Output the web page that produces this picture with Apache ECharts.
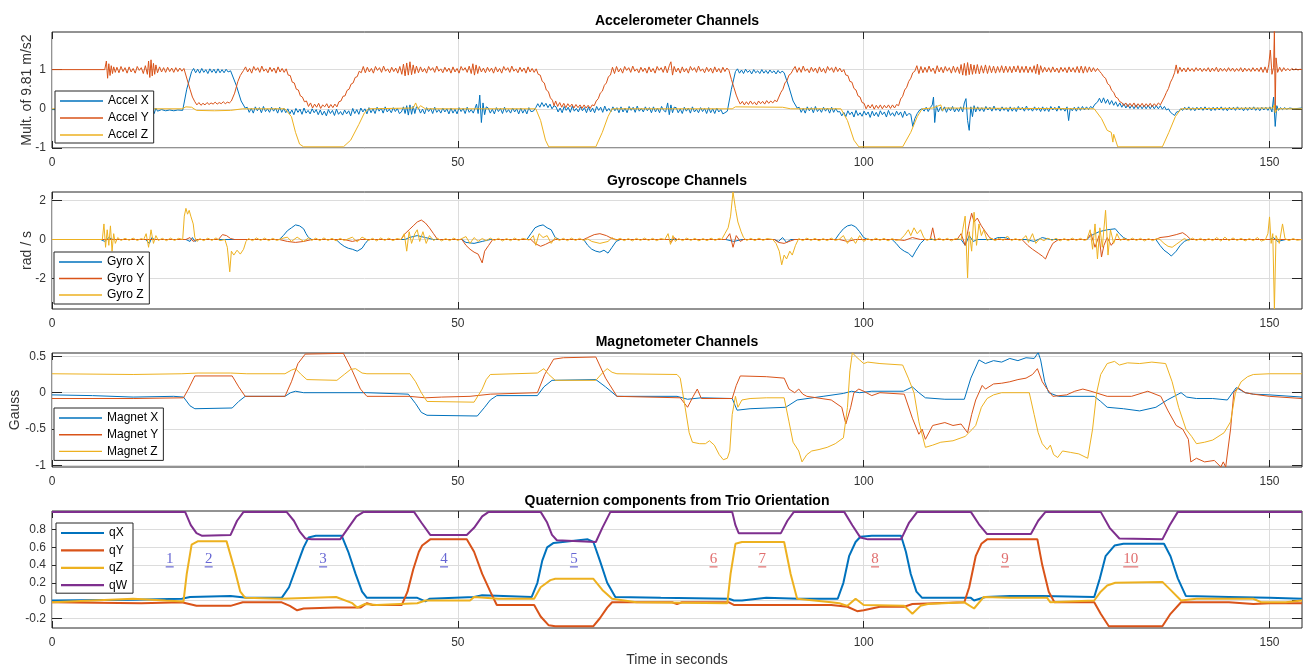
<!DOCTYPE html>
<html><head><meta charset="utf-8">
<script src="https://cdn.jsdelivr.net/npm/echarts@6/dist/echarts.min.js"></script>
<style>html,body{margin:0;padding:0;background:#fff}#c{width:1305px;height:665px}</style>
</head><body><div id="c"></div>
<script>
// ---------------- DATA (time in s, value) ----------------
const xTicks = [0, 50, 100, 150];
const accelTicks = [-1, 0, 1];
const gyroTicks = [-2, 0, 2];
const magTicks = [-1, -0.5, 0, 0.5];
const quatTicks = [-0.2, 0, 0.2, 0.4, 0.6, 0.8];

const titles = ['Accelerometer Channels', 'Gyroscope Channels', 'Magnetometer Channels', 'Quaternion components from Trio Orientation'];
const yNames = ['Mult. of 9.81 m/s2', 'rad / s', 'Gauss', ''];
const xName = 'Time in seconds';
const accelNames = ['Accel X', 'Accel Y', 'Accel Z'];
const gyroNames = ['Gyro X', 'Gyro Y', 'Gyro Z'];
const magNames = ['Magnet X', 'Magnet Y', 'Magnet Z'];
const quatNames = ['qX', 'qY', 'qZ', 'qW'];

const stepNames = ['1','2','3','4','5','6','7','8','9','10'];
const stepTimes = [14.5, 19.3, 33.4, 48.3, 64.3, 81.5, 87.5, 101.4, 117.4, 132.9];
const stepLevel = 0.47;

const accelX = [[0,-0.02],[6,-0.02],[6.5,-0.06],[6.75,0.03],[7.0,-0.07],[7.25,0.02],[7.5,-0.05],[7.75,0.0],[8,-0.04],[8.5,-0.02],[9,-0.05],[9.5,-0.02],[10,-0.04],[10.5,-0.02],[11,-0.05],[11.5,-0.03],[11.8,-0.06],[12.0,0.03],[12.2,-0.1],[12.4,0.04],[12.6,-0.12],[12.8,0.02],[13.0,-0.06],[13.5,-0.02],[14,-0.05],[14.5,-0.03],[15,-0.05],[15.5,-0.03],[16.1,-0.04],[16.6,0.5],[17.2,0.95],
[17.45,1.03],[17.7,0.92],[17.95,1.01],[18.2,0.91],[18.45,1.03],[18.7,0.93],[18.95,1.0],[19.2,0.9],[19.45,1.02],[19.7,0.93],[19.95,1.01],[20.2,0.91],[20.45,1.02],[20.7,0.92],[20.95,1.0],[21.2,0.92],[21.45,1.01],[21.7,0.94],[22,0.97],[22.7,0.6],[23.3,0.2],[23.8,0.02],
[24.05,0.04],[24.3,-0.09],[24.55,0.01],[24.8,-0.11],[25.05,0.05],[25.3,-0.05],[25.55,0.03],[25.8,-0.1],[26.05,0.06],[26.3,-0.07],[26.55,0.0],[26.8,-0.09],[27.05,0.04],[27.3,-0.06],[27.55,0.02],[27.8,-0.11],[28.05,0.04],[28.3,-0.09],[28.55,0.01],[28.8,-0.1],
[29.05,0.0],[29.3,-0.13],[29.55,-0.03],[29.8,-0.15],[30.05,0.01],[30.3,-0.09],[30.55,-0.01],[30.8,-0.14],[31.05,0.02],[31.3,-0.11],[31.55,-0.04],[31.8,-0.13],[32.05,0.0],[32.3,-0.1],[32.55,-0.02],[32.8,-0.15],[33.05,-0.03],[33.3,-0.16],[33.55,-0.06],[33.8,-0.18],[34.05,-0.02],[34.3,-0.12],[34.55,-0.04],[34.8,-0.17],[35.05,-0.01],[35.3,-0.14],[35.55,-0.07],[35.8,-0.16],[36.05,-0.03],[36.3,-0.13],[36.55,-0.05],[36.8,-0.18],[37.05,0.01],[37.3,-0.12],[37.55,-0.02],[37.8,-0.14],[38.05,0.02],[38.3,-0.08],[38.55,0.0],[38.8,-0.13],
[39.05,0.03],[39.3,-0.1],[39.55,0.0],[39.8,-0.12],[40.05,0.04],[40.3,-0.06],[40.55,0.02],[40.8,-0.11],[41.05,0.05],[41.3,-0.08],[41.55,-0.01],[41.8,-0.1],[42.05,0.03],[42.3,-0.07],[42.55,0.01],[42.8,-0.12],
[43.05,-0.08],[43.3,0.05],[43.5,-0.12],[43.7,0.08],[43.9,-0.16],[44.1,0.1],[44.3,-0.14],[44.5,0.07],[44.7,-0.12],[44.9,0.05],
[45.15,0.02],[45.4,-0.11],[45.65,-0.01],[45.9,-0.13],[46.15,0.03],[46.4,-0.07],[46.65,0.01],[46.9,-0.12],[47.15,0.04],[47.4,-0.09],[47.65,-0.02],[47.9,-0.11],[48.15,0.02],[48.4,-0.08],[48.65,0.0],[48.9,-0.13],[49.15,0.02],[49.4,-0.11],[49.65,-0.01],[49.9,-0.13],[50.15,0.03],[50.4,-0.07],[50.65,0.01],[50.9,-0.12],[51.15,0.04],[51.4,-0.09],[51.65,-0.02],[51.9,-0.11],
[52.1,-0.15],[52.3,0.12],[52.5,-0.12],[52.7,0.35],[52.9,-0.35],[53.1,0.15],[53.3,-0.15],[53.5,0.05],
[53.75,0.02],[54.0,-0.11],[54.25,-0.01],[54.5,-0.13],[54.75,0.03],[55.0,-0.07],[55.25,0.01],[55.5,-0.12],[55.75,0.04],[56.0,-0.09],[56.25,-0.02],[56.5,-0.11],[56.75,0.02],[57.0,-0.08],[57.25,0.0],[57.5,-0.13],[57.75,0.02],[58.0,-0.11],[58.25,-0.01],[58.5,-0.13],[58.75,0.03],[59.0,-0.07],[59.3,-0.06],
[59.6,0.03],[59.85,0.13],[60.1,0.04],[60.35,0.16],[60.6,0.06],[60.85,0.14],[61.1,0.03],[61.35,0.12],[61.6,0.0],[61.85,0.08],
[62.1,0.05],[62.35,-0.08],[62.6,0.02],[62.85,-0.1],[63.1,0.06],[63.35,-0.04],[63.6,0.04],[63.85,-0.09],[64.1,0.07],[64.35,-0.06],[64.6,0.01],[64.85,-0.08],[65.1,0.05],[65.35,-0.05],[65.6,0.03],[65.85,-0.1],
[66.1,0.05],[66.35,-0.08],[66.6,0.02],[66.85,-0.1],[67.1,0.06],[67.35,-0.04],[67.6,0.04],[67.85,-0.09],[68.1,0.07],[68.35,-0.06],[68.6,0.01],[68.85,-0.08],[69.1,0.05],[69.35,-0.05],[69.6,0.03],[69.85,-0.1],
[70.1,0.05],[70.35,-0.08],[70.6,0.02],[70.85,-0.1],[71.1,0.06],[71.35,-0.04],[71.6,0.04],[71.85,-0.09],[72.1,0.07],[72.35,-0.06],[72.6,0.01],[72.85,-0.08],[73.1,0.05],[73.35,-0.05],[73.6,0.03],[73.85,-0.1],
[74.1,0.05],[74.35,-0.08],[74.6,0.02],[74.85,-0.1],[75.1,0.06],[75.35,-0.04],
[75.6,-0.08],[75.85,0.15],[76.05,-0.15],[76.25,0.1],[76.45,-0.1],[76.65,0.04],
[76.9,0.03],[77.15,-0.1],[77.4,0.0],[77.65,-0.12],[77.9,0.04],[78.15,-0.06],[78.4,0.02],[78.65,-0.11],[78.9,0.05],[79.15,-0.08],[79.4,-0.01],[79.65,-0.1],[79.9,0.03],[80.15,-0.07],[80.4,0.01],[80.65,-0.12],[80.9,0.03],[81.15,-0.1],[81.4,0.0],[81.65,-0.12],[81.9,0.02],[82.15,-0.08],[82.4,-0.02],[82.65,-0.13],[82.9,-0.1],[83.2,-0.06],[83.7,0.5],[84.2,0.95],
[84.45,1.02],[84.7,0.91],[84.95,0.99],[85.2,0.9],[85.45,1.01],[85.7,0.93],[85.95,0.98],[86.2,0.89],[86.45,1.0],[86.7,0.92],[86.95,0.97],[87.2,0.9],[87.45,1.0],[87.7,0.91],[87.95,0.98],[88.2,0.9],[88.45,0.99],[88.7,0.92],[88.95,0.97],[89.2,0.89],[89.45,0.98],[89.7,0.91],[89.95,0.96],[90.2,0.92],[90.8,0.55],[91.3,0.2],[91.8,0.02],
[92.05,0.04],[92.3,-0.09],[92.55,0.01],[92.8,-0.11],[93.05,0.05],[93.3,-0.05],[93.55,0.03],[93.8,-0.1],[94.05,0.06],[94.3,-0.07],[94.55,0.0],[94.8,-0.09],[95.05,0.04],[95.3,-0.06],[95.55,0.02],[95.8,-0.11],[96.05,0.04],[96.3,-0.09],[96.55,0.01],[96.8,-0.08],
[97.05,-0.07],[97.3,-0.18],[97.55,-0.09],[97.8,-0.2],[98.05,-0.05],[98.3,-0.15],[98.55,-0.08],[98.8,-0.21],[99.05,-0.04],[99.3,-0.17],[99.55,-0.1],[99.8,-0.19],[100.05,-0.06],[100.3,-0.16],[100.55,-0.08],[100.8,-0.22],[101.05,-0.06],[101.3,-0.18],[101.55,-0.09],[101.8,-0.2],[102.05,-0.05],[102.3,-0.15],[102.55,-0.08],[102.8,-0.21],[103.05,-0.04],[103.3,-0.17],[103.55,-0.1],[103.8,-0.19],[104.05,-0.06],[104.3,-0.16],[104.55,-0.08],[104.8,-0.22],[105.05,-0.06],[105.3,-0.18],[105.55,-0.12],
[105.8,-0.14],[106.05,-0.45],[106.3,-0.25],[106.6,-0.12],[106.9,-0.03],[107.2,0.0],[107.45,-0.06],[107.7,0.04],[107.95,-0.07],[108.2,0.03],[108.45,0.1],[108.6,0.3],[108.75,-0.35],[108.95,0.08],
[109.2,-0.08],[109.45,0.04],[109.7,-0.06],[109.95,0.05],[110.2,-0.09],[110.45,0.03],[110.7,-0.05],[110.95,0.06],[111.2,-0.08],[111.45,0.02],[111.7,-0.07],[111.95,0.05],
[112.2,-0.08],[112.4,0.15],[112.6,0.26],[112.8,-0.3],[113.0,-0.55],[113.2,0.05],[113.4,-0.2],[113.6,0.08],[113.8,-0.08],
[114.05,0.05],[114.3,-0.06],[114.55,0.03],[114.8,-0.07],[115.05,0.06],[115.3,-0.03],[115.55,0.04],[115.8,-0.06],[116.05,0.07],[116.3,-0.04],[116.55,0.02],[116.8,-0.06],[117.05,0.05],[117.3,-0.04],[117.55,0.03],[117.8,-0.07],
[118.05,0.05],[118.3,-0.06],[118.55,0.03],[118.8,-0.07],[119.05,0.06],[119.3,-0.03],[119.55,0.04],[119.8,-0.06],[120.05,0.07],[120.3,-0.04],[120.55,0.02],[120.8,-0.06],[121.05,0.05],[121.3,-0.04],[121.55,0.03],[121.8,-0.07],
[122.05,0.05],[122.3,-0.06],[122.55,0.03],[122.8,-0.07],[123.05,0.06],[123.3,-0.03],[123.55,0.04],[123.8,-0.06],[124.05,0.07],[124.3,-0.04],[124.55,0.02],[124.8,-0.06],[125.05,0.05],
[125.25,-0.3],[125.45,0.02],
[125.7,-0.05],[125.95,0.04],[126.2,-0.06],[126.45,0.05],[126.7,-0.04],[126.95,0.06],[127.2,-0.03],[127.45,0.05],[127.7,-0.02],[127.95,0.06],
[128.2,0.02],[128.5,0.12],[128.8,0.17],[129.05,0.27],[129.3,0.15],[129.55,0.28],[129.8,0.14],[130.05,0.24],[130.3,0.11],[130.55,0.21],[130.8,0.09],[131.05,0.18],[131.3,0.06],[131.55,0.15],[131.8,0.04],[132.05,0.13],[132.3,0.02],[132.55,0.11],[132.8,0.01],[133.05,0.1],[133.3,0.0],[133.55,0.1],[133.8,0.0],[134.05,0.09],[134.3,0.0],[134.55,0.09],[134.8,0.0],[135.05,0.09],[135.3,0.0],[135.55,0.09],[135.8,0.0],[136.05,0.08],[136.3,0.0],[136.55,0.08],[136.8,-0.01],[137.05,0.06],[137.3,-0.03],[137.55,0.0],[137.8,-0.09],[138.05,-0.13],[138.3,-0.17],[138.55,-0.08],[138.8,-0.07],[139.05,0.0],
[139.3,-0.04],[139.55,0.04],[139.8,-0.03],[140.05,0.05],[140.3,-0.04],[140.55,0.03],[140.8,-0.05],[141.05,0.04],[141.3,-0.03],[141.55,0.04],[141.8,-0.04],[142.05,0.05],[142.3,-0.03],[142.55,0.03],[142.8,-0.05],[143.05,0.04],
[143.3,-0.04],[143.55,0.04],[143.8,-0.03],[144.05,0.05],[144.3,-0.04],[144.55,0.03],[144.8,-0.05],[145.05,0.04],[145.3,-0.03],[145.55,0.04],[145.8,-0.04],[146.05,0.05],[146.3,-0.03],[146.55,0.03],[146.8,-0.05],[147.05,0.04],
[147.3,-0.04],[147.55,0.04],[147.8,-0.03],[148.05,0.05],[148.3,-0.04],[148.55,0.03],[148.8,-0.05],[149.05,0.04],[149.3,-0.03],[149.55,0.04],[149.8,-0.04],
[150.05,0.05],[150.3,-0.08],[150.5,0.3],[150.7,-0.45],[150.9,0.08],[151.1,-0.04],[151.35,0.03],[151.6,-0.02],[151.85,0.03],[152.1,-0.01],[152.5,0.02],[153,0.0],[154,0.02]];

const accelY = [[0,1],[6.5,1.0],[6.7,1.22],[6.85,0.78],[7.0,1.15],[7.15,0.85],[7.3,1.1],[7.45,0.9],[7.6,1.07],[7.8,0.93],[8.0,1.06],[8.25,0.92],[8.5,1.08],[8.75,0.95],[9.0,1.05],[9.25,0.91],[9.5,1.07],[9.75,0.94],[10.0,1.03],[10.25,0.91],[10.5,1.08],[10.75,0.98],[11.0,1.05],[11.25,0.9],[11.5,1.1],[11.75,0.88],[11.9,1.22],[12.05,0.8],[12.2,1.25],[12.35,0.84],[12.5,1.16],[12.65,0.88],[12.8,1.12],[13.0,0.92],[13.25,1.07],[13.5,0.94],[13.75,1.05],[14.0,0.93],[14.25,1.06],[14.5,0.95],[14.75,1.04],[15.0,0.93],[15.25,1.05],[15.5,0.95],[15.75,1.04],[16.0,0.96],[16.25,1.03],[16.4,1.0],
[17,0.5],[17.3,0.3],[17.6,0.18],[17.85,0.1],[18.1,0.16],[18.35,0.09],[18.6,0.14],[18.85,0.1],[19.1,0.16],[19.35,0.11],[19.6,0.15],[19.85,0.12],[20.1,0.17],[20.35,0.12],[20.6,0.16],[20.85,0.13],[21.1,0.18],[21.35,0.13],[21.6,0.17],[21.85,0.15],[22.1,0.2],[22.5,0.4],[22.9,0.7],[23.2,0.85],[23.6,0.98],
[23.85,1.07],[24.1,0.94],[24.35,1.03],[24.6,0.91],[24.85,1.08],[25.1,0.98],[25.35,1.05],[25.6,0.93],[25.85,1.09],[26.1,0.96],[26.35,1.02],[26.6,0.92],[26.85,1.06],[27.1,0.95],[27.35,1.04],[27.6,0.91],[27.85,1.07],[28.1,0.94],[28.35,1.03],[28.6,0.93],
[28.85,1.02],[29.1,0.86],[29.35,0.85],[29.6,0.68],[29.85,0.66],[30.1,0.5],[30.35,0.48],[30.6,0.33],[30.85,0.3],[31.1,0.18],[31.35,0.2],[31.6,0.06],
[31.85,0.15],[32.1,0.02],[32.35,0.12],[32.6,0.04],[32.85,0.14],[33.1,0.01],[33.35,0.1],[33.6,0.05],[33.85,0.13],[34.1,0.02],[34.35,0.11],[34.6,0.03],[34.85,0.12],[35.1,0.05],
[35.35,0.18],[35.6,0.2],[35.85,0.32],[36.1,0.33],[36.35,0.47],[36.6,0.5],[36.85,0.63],[37.1,0.66],[37.35,0.8],[37.6,0.82],[37.85,0.96],[38.1,0.92],
[38.35,1.08],[38.6,0.92],[38.85,1.06],[39.1,0.94],[39.35,1.03],[39.6,0.91],[39.85,1.08],[40.1,0.98],[40.35,1.05],[40.6,0.93],[40.85,1.09],[41.1,0.96],[41.35,1.02],[41.6,0.92],[41.85,1.06],[42.1,0.95],[42.35,1.04],[42.6,0.91],[42.85,1.08],[43.1,0.88],[43.3,1.14],[43.5,0.84],[43.7,1.17],[43.9,0.86],[44.1,1.2],[44.3,0.87],[44.5,1.12],[44.7,0.9],[44.9,1.09],[45.15,0.92],[45.4,1.07],[45.65,0.94],[45.9,1.03],[46.15,0.91],[46.4,1.08],[46.65,0.98],[46.9,1.05],[47.15,0.93],[47.4,1.09],[47.65,0.96],[47.9,1.02],[48.15,0.92],[48.4,1.06],[48.65,0.95],[48.9,1.04],[49.15,0.91],[49.4,1.07],[49.65,0.94],[49.9,1.03],[50.15,0.91],[50.4,1.08],[50.65,0.98],[50.9,1.05],[51.15,0.93],[51.4,1.09],[51.65,0.9],[51.85,1.15],[52.05,0.86],[52.25,1.12],[52.45,0.9],[52.65,1.08],[52.9,0.94],[53.15,1.04],[53.4,0.92],[53.65,1.06],[53.9,0.95],[54.15,1.04],[54.4,0.91],[54.65,1.07],[54.9,0.94],[55.15,1.03],[55.4,0.91],[55.65,1.08],[55.9,0.98],[56.15,1.05],[56.4,0.93],[56.65,1.09],[56.9,0.96],[57.15,1.02],[57.4,0.92],[57.65,1.06],[57.9,0.95],[58.15,1.04],[58.4,0.91],[58.65,1.07],[58.9,0.94],[59.15,1.03],[59.4,0.93],[59.65,1.02],
[59.9,0.88],[60.15,0.86],[60.4,0.7],[60.65,0.66],[60.9,0.48],[61.15,0.44],[61.4,0.28],[61.65,0.22],[61.85,0.08],
[62.05,0.2],[62.3,0.06],[62.55,0.16],[62.8,0.04],[63.05,0.14],[63.3,0.03],[63.55,0.13],[63.8,0.05],[64.05,0.12],[64.3,0.02],[64.55,0.11],[64.8,0.03],[65.05,0.1],[65.3,0.01],[65.55,0.1],[65.8,0.02],[66.05,0.09],[66.3,0.01],[66.55,0.1],[66.8,0.08],
[67.05,0.2],[67.3,0.26],[67.55,0.4],[67.8,0.45],[68.05,0.6],[68.3,0.66],[68.55,0.82],[68.8,0.86],[69.05,1.06],[69.3,0.9],
[69.55,1.08],[69.8,0.94],[70.05,1.03],[70.3,0.91],[70.55,1.08],[70.8,0.98],[71.05,1.05],[71.3,0.93],[71.55,1.09],[71.8,0.96],[72.05,1.02],[72.3,0.92],[72.55,1.06],[72.8,0.95],[73.05,1.04],[73.3,0.91],[73.55,1.07],[73.8,0.94],[74.05,1.03],[74.3,0.91],[74.55,1.08],[74.8,0.98],[75.05,1.05],[75.3,0.93],[75.55,1.09],[75.8,0.92],[76.05,1.1],[76.25,1.2],[76.45,0.86],[76.65,1.08],[76.9,0.94],[77.15,1.04],[77.4,0.91],[77.65,1.07],[77.9,0.94],[78.15,1.03],[78.4,0.91],[78.65,1.08],[78.9,0.98],[79.15,1.05],[79.4,0.93],[79.65,1.09],[79.9,0.96],[80.15,1.02],[80.4,0.92],[80.65,1.06],[80.9,0.95],[81.15,1.04],[81.4,0.91],[81.65,1.07],[81.9,0.94],[82.15,1.03],[82.4,0.92],[82.65,1.06],[82.9,0.95],[83.15,1.04],[83.4,0.98],
[83.7,0.75],[84.0,0.55],[84.3,0.35],[84.55,0.22],[84.8,0.12],
[85.05,0.19],[85.3,0.1],[85.55,0.18],[85.8,0.11],[86.05,0.2],[86.3,0.12],[86.55,0.17],[86.8,0.1],[87.05,0.2],[87.3,0.13],[87.55,0.19],[87.8,0.12],[88.05,0.21],[88.3,0.14],[88.55,0.2],[88.8,0.15],[89.05,0.22],[89.3,0.18],
[89.55,0.3],[89.8,0.42],[90.05,0.5],[90.3,0.66],[90.55,0.72],[90.8,0.86],[91.05,0.9],[91.3,1.0],[91.55,1.08],
[91.8,0.93],[92.05,1.05],[92.3,0.93],[92.55,1.09],[92.8,0.96],[93.05,1.02],[93.3,0.92],[93.55,1.06],[93.8,0.95],[94.05,1.04],[94.3,0.91],[94.55,1.07],[94.8,0.94],[95.05,1.03],[95.3,0.91],[95.55,1.08],[95.8,0.98],[96.05,1.05],[96.3,0.93],[96.55,1.07],[96.8,0.95],[97.05,1.04],[97.3,0.94],[97.55,1.0],
[97.8,0.86],[98.05,0.85],[98.3,0.7],[98.55,0.68],[98.8,0.52],[99.05,0.48],[99.3,0.33],[99.55,0.3],[99.8,0.16],[100.05,0.14],
[100.3,0.0],[100.55,0.1],[100.8,0.02],[101.05,0.11],[101.3,-0.01],[101.55,0.09],[101.8,0.01],[102.05,0.1],[102.3,0.0],[102.55,0.09],[102.8,0.02],[103.05,0.1],[103.3,0.01],[103.55,0.1],[103.8,0.02],[104.05,0.11],[104.3,0.08],
[104.55,0.25],[104.8,0.32],[105.05,0.48],[105.3,0.55],[105.55,0.7],[105.8,0.78],[106.05,0.92],[106.3,0.96],[106.55,1.1],[106.8,0.9],
[107.05,1.08],[107.3,0.92],[107.55,1.06],[107.8,0.93],[108.05,1.09],[108.3,0.95],[108.55,1.04],[108.8,0.9],[109.05,1.1],[109.3,0.94],[109.55,1.06],[109.8,0.92],[110.05,1.08],[110.3,0.96],[110.55,1.05],[110.8,0.91],[111.05,1.09],[111.3,0.93],[111.55,1.07],[111.8,0.9],[112.0,1.13],[112.2,0.86],[112.4,1.16],[112.6,0.85],[112.8,1.18],[113.0,0.87],[113.2,1.14],[113.4,0.88],[113.6,1.12],[113.8,0.9],[114.0,1.13],[114.25,0.89],[114.5,1.1],[114.75,0.91],[115.0,1.12],[115.25,0.9],[115.5,1.1],[115.75,0.92],[116.0,1.09],[116.25,0.91],[116.5,1.08],[116.75,0.93],[117.0,1.1],[117.25,0.92],[117.5,1.09],[117.75,0.93],[118.0,1.08],[118.25,0.92],[118.5,1.09],[118.75,0.94],[119.0,1.1],[119.25,0.92],[119.5,1.08],[119.75,0.93],[120.0,1.09],[120.25,0.92],[120.5,1.07],[120.75,0.93],[121.0,1.1],[121.2,0.9],[121.4,1.14],[121.6,0.87],[121.8,1.1],[122.05,0.93],[122.3,1.06],[122.55,0.94],[122.8,1.05],[123.05,0.93],[123.3,1.07],[123.55,0.94],[123.8,1.04],[124.05,0.92],[124.3,1.06],[124.55,0.95],[124.8,1.05],[125.05,0.92],[125.3,1.07],[125.55,0.94],[125.8,1.05],[126.05,0.93],[126.3,1.08],[126.55,0.92],[126.8,1.09],[127.05,0.91],[127.3,1.08],[127.55,0.93],[127.8,1.07],[128.05,0.94],[128.3,1.05],[128.55,0.95],[128.8,1.03],[129.05,0.96],
[129.3,0.9],[129.55,0.82],[129.8,0.78],[130.05,0.64],[130.3,0.6],[130.55,0.47],[130.8,0.42],[131.05,0.3],[131.3,0.27],[131.55,0.18],[131.8,0.16],[132.05,0.08],
[132.3,0.15],[132.55,0.05],[132.8,0.14],[133.05,0.06],[133.3,0.15],[133.55,0.04],[133.8,0.13],[134.05,0.06],[134.3,0.14],[134.55,0.05],[134.8,0.13],[135.05,0.06],[135.3,0.14],[135.55,0.05],[135.8,0.13],[136.05,0.07],[136.3,0.15],[136.55,0.1],
[136.8,0.2],[137.05,0.3],[137.3,0.42],[137.55,0.52],[137.8,0.68],[138.05,0.78],[138.3,0.92],[138.5,1.12],[138.7,0.9],
[138.95,1.06],[139.2,0.95],[139.45,1.04],[139.7,0.94],[139.95,1.05],[140.2,0.96],[140.45,1.03],[140.7,0.95],[140.95,1.05],[141.2,0.97],[141.45,1.04],[141.7,0.95],[141.95,1.03],[142.2,0.96],[142.45,1.05],[142.7,0.94],[142.95,1.04],[143.2,0.96],[143.45,1.06],[143.7,0.94],[143.95,1.04],[144.2,0.96],[144.45,1.03],[144.7,0.95],[144.95,1.05],[145.2,0.96],[145.45,1.04],[145.7,0.95],[145.95,1.03],[146.2,0.96],[146.45,1.05],[146.7,0.94],[146.95,1.04],[147.2,0.96],[147.45,1.03],[147.7,0.95],[147.95,1.05],[148.2,0.96],[148.45,1.04],[148.7,0.95],[148.95,1.06],[149.2,0.93],[149.45,1.07],[149.7,0.92],[149.9,1.12],[150.1,1.5],[150.3,0.88],[150.5,1.06],[150.6,2.0],[150.7,-0.04],[150.8,1.3],[151.0,0.93],[151.25,1.06],[151.5,0.95],[151.75,1.05],[152.0,0.97],[152.25,1.03],[152.5,0.97],[152.75,1.03],[153.0,0.99],[153.25,1.02],[153.5,0.99],[153.75,1.01],[154,1.0]];

const accelZ = [[0,0],[16,0],[16.5,0.05],[17.2,0.04],[17.8,-0.04],[20,-0.05],[22,-0.04],[23.5,0],[28.7,0],[29.5,-0.2],[30,-0.6],[30.5,-0.9],[31,-0.97],[35.9,-0.97],[36.8,-0.8],[37.8,-0.4],[38.5,-0.1],[39,0],[44.5,0.02],[44.8,0.15],[45.1,0.0],[45.4,0.08],[46,0],[59.6,0],[60.2,-0.3],[60.8,-0.8],[61.2,-0.97],[67,-0.97],[67.8,-0.6],[68.5,-0.2],[69,0],[83.8,0],[84.2,0.05],[90,0.04],[91,0],[97.2,0],[98,-0.3],[98.8,-0.8],[99.4,-0.97],[104.8,-0.97],[105.8,-0.6],[106.6,-0.2],[107.2,0],[108.5,0.02],[109.5,0.1],[109.7,-0.05],[110,0.02],[128.4,0],[129.3,-0.25],[130,-0.55],[130.5,-0.6],[130.7,-0.85],[130.8,-0.65],[131.3,-0.97],[136.8,-0.97],[137.6,-0.6],[138.4,-0.2],[139.1,0],[150.4,0.02],[150.6,0.1],[150.7,-0.1],[151,0],[154,0]];

const gyroX = [[0,0],[6,0],[6.5,-0.1],[7,0.1],[7.5,0],[11.5,0],[12,-0.2],[12.3,0.1],[12.6,0],[16.5,0],[17,-0.1],[17.3,0.1],[17.6,-0.1],[18,0],[28,0],[28.5,0.2],[29,0.45],[29.5,0.6],[30,0.75],[30.5,0.7],[31,0.55],[31.3,0.3],[31.6,0.1],[32,0],[35,0],[35.5,-0.2],[36,-0.35],[36.5,-0.45],[37,-0.5],[37.6,-0.6],[38.2,-0.45],[38.6,-0.2],[39,0],[43.5,0],[44,0.1],[45,0.2],[46,0.1],[47,0],[50.5,0],[51,-0.15],[52,-0.2],[53,-0.1],[54,0],[58.5,0],[59,0.3],[59.5,0.6],[60,0.7],[60.5,0.75],[61,0.6],[61.5,0.5],[62,0.1],[62.5,0],[65.5,0],[66,-0.3],[66.5,-0.5],[67,-0.6],[67.5,-0.65],[68,-0.55],[68.5,-0.7],[69,-0.4],[69.5,-0.1],[70,0],[83,0],[84,-0.1],[85,0],[89,0],[89.5,-0.1],[90,0.1],[90.5,-0.15],[91,0],[96.5,0],[97,0.3],[97.5,0.55],[98,0.7],[98.5,0.75],[99,0.65],[99.5,0.4],[100,0.1],[100.5,0],[103.5,0],[104,-0.2],[104.5,-0.45],[105,-0.6],[105.5,-0.7],[106,-0.9],[106.4,-0.6],[107,-0.2],[107.5,0],[112,0],[112.5,-0.3],[113,0.2],[113.5,-0.1],[114,0],[116,0],[116.5,0.1],[117.5,0.1],[118,0],[120,0],[121,-0.1],[122,0.1],[123,0],[127.5,0],[128,0.2],[129,0.4],[130,0.5],[131,0.55],[131.5,0.3],[132,0.1],[132.5,0],[136,0],[136.5,-0.3],[137,-0.55],[137.5,-0.7],[137.9,-0.85],[138.5,-0.6],[139,-0.3],[139.5,-0.1],[140,0],[150,0],[150.5,0.1],[151,-0.1],[152,0],[154,0]];

const gyroY = [[0,0],[16.5,0],[17,0.1],[17.4,-0.1],[17.8,0],[20.5,0],[21,0.25],[21.5,0.2],[22,0.05],[22.5,0],[28,0],[29,-0.1],[30,-0.15],[31,-0.1],[32,0],[36,0],[37,-0.1],[38,0],[43,0],[43.5,0.3],[44,0.5],[44.5,0.7],[45,0.9],[45.5,1.0],[46,0.85],[46.5,0.6],[47,0.3],[47.5,0],[50.5,0],[51,-0.3],[51.5,-0.5],[52,-0.65],[52.5,-0.75],[53,-1.2],[53.3,-0.6],[53.8,-0.3],[54.3,0],[59,0],[59.5,-0.2],[60.2,-0.35],[60.8,-0.25],[61.5,-0.1],[62,0],[65.5,0],[66,0.1],[66.8,0.25],[67.5,0.3],[68.3,0.2],[69,0.05],[69.5,0],[76,0],[76.3,-0.15],[76.6,0.1],[77,0],[83,0],[83.5,0.3],[83.9,-0.4],[84.3,0.2],[84.8,-0.1],[85.2,0],[89,0],[89.5,-0.15],[90.2,-0.2],[90.8,-0.1],[91.5,0],[97,0],[98,-0.1],[99,0],[104,0],[105,-0.05],[106,0.1],[107,0],[108.2,0],[108.5,0.6],[108.8,0],[111.5,0],[112,0.3],[112.5,-0.3],[113,0.8],[113.3,1.35],[113.6,0.9],[114,1.1],[114.5,0.7],[115,0.4],[115.5,0.1],[116,0],[119.5,0],[120.2,-0.3],[120.8,-0.5],[121.5,-0.7],[122,-0.85],[122.4,-1.0],[122.8,-0.6],[123.3,-0.2],[124,0],[127.5,0],[128,0.3],[128.5,-0.4],[129,0.2],[129.3,-0.9],[129.6,-0.3],[130,0.1],[130.5,-0.3],[131,0],[136,0],[136.5,0.1],[137.5,0.15],[138.5,0.25],[139.3,0.35],[139.8,0.2],[140.3,0],[154,0]];

const gyroZ = [[0,0],[6.2,0],[6.4,0.8],[6.6,-0.4],[6.8,0.5],[7,-0.3],[7.2,0.7],[7.4,-0.6],[7.6,0.3],[7.8,-0.2],[8.1,0.1],[8.5,-0.05],[9,0.06],[9.5,-0.04],[10,0.07],[10.5,-0.05],[11,0.05],[11.3,0],[11.6,0.3],[11.9,-0.4],[12.2,0.5],[12.5,-0.2],[12.8,0.2],[13.1,-0.05],[13.6,0.06],[14.1,-0.06],[14.6,0.07],[15.1,-0.05],[15.6,0.06],[16.1,0],[16.3,1.2],[16.5,1.6],[16.7,1.3],[16.9,1.5],[17.1,1.2],[17.4,0.8],[17.6,0.1],[17.9,-0.1],[18.2,0.05],[18.7,-0.06],[19.2,0.07],[19.7,-0.05],[20.2,0.08],[20.7,-0.06],[21.3,0],[21.6,-0.4],[21.9,-1.66],[22.1,-0.6],[22.4,-0.8],[22.8,-0.55],[23.2,-0.75],[23.6,-0.5],[23.9,-0.1],[24.2,0.05],[24.7,-0.06],[25.2,0.08],[25.7,-0.05],[26.2,0.07],[26.7,-0.06],[27.2,0.06],[27.7,-0.05],[28.3,0.05],[29,0.12],[29.5,-0.1],[30.2,0.12],[31,-0.1],[31.6,0.08],[32,-0.05],[32.5,0.07],[33,-0.06],[33.5,0.08],[34,-0.05],[34.5,0.06],[35,-0.07],[35.5,0.06],[36,-0.05],[37,0.12],[37.6,-0.12],[38.2,0.12],[39,-0.05],[39.5,0.06],[40,-0.07],[40.5,0.08],[41,-0.05],[41.5,0.07],[42,-0.06],[42.5,0.05],[43,0],[43.4,0.3],[43.7,-0.6],[44,0.4],[44.3,-0.2],[44.7,0.3],[45,0.5],[45.3,-0.1],[45.7,0.4],[46.1,-0.2],[46.5,0.2],[47,-0.05],[47.5,0.06],[48,-0.07],[48.5,0.05],[49,-0.06],[49.5,0.07],[50,-0.05],[50.5,0.05],[51,0.15],[51.5,-0.2],[52,0.1],[52.5,-0.1],[53,0.05],[53.5,-0.06],[54,0.07],[54.5,-0.05],[55,0.06],[55.5,-0.07],[56,0.05],[56.5,-0.06],[57,0.07],[57.5,-0.05],[58,0.06],[58.8,-0.03],[59.3,0.2],[59.6,-0.3],[60,0.3],[60.5,0.1],[61,0.2],[61.5,-0.2],[62,0.1],[62.5,-0.05],[63,0.06],[63.5,-0.06],[64,0.07],[64.5,-0.05],[65,0.06],[65.5,-0.05],[66,0.03],[66.5,-0.1],[67.5,-0.2],[68.5,-0.1],[69,0.1],[69.5,-0.04],[70,0.06],[70.5,-0.06],[71,0.05],[71.5,-0.07],[72,0.06],[72.5,-0.05],[73,0.07],[73.5,-0.05],[74,0.06],[74.5,-0.06],[75,0.05],[75.5,0],[75.9,0.3],[76.2,-0.25],[76.5,0.2],[76.8,-0.1],[77.2,0.05],[77.7,-0.06],[78.2,0.07],[78.7,-0.05],[79.2,0.06],[79.7,-0.07],[80.2,0.05],[80.7,-0.06],[81.2,0.07],[81.7,-0.05],[82.2,0.06],[82.5,0],[82.9,0.3],[83.3,0.6],[83.6,1.2],[83.9,2.44],[84.2,1.6],[84.5,0.9],[84.9,0.4],[85.2,0.1],[85.6,-0.05],[86.1,0.06],[86.6,-0.06],[87.1,0.07],[87.6,-0.05],[88.1,0.05],[88.8,0],[89.2,-0.2],[89.6,-0.6],[89.9,-1.3],[90.2,-0.8],[90.5,-1.0],[90.9,-0.6],[91.2,-0.8],[91.6,-0.3],[92,0.05],[92.5,-0.06],[93,0.07],[93.5,-0.05],[94,0.06],[94.5,-0.07],[95,0.05],[95.5,-0.06],[96,0.07],[96.5,-0.05],[97,0.02],[97.5,0.2],[98,-0.2],[98.5,0.1],[99,-0.2],[99.5,0.2],[100,-0.1],[100.5,0.05],[101,-0.06],[101.5,0.07],[102,-0.05],[102.5,0.06],[103,-0.07],[103.5,0.05],[104,-0.05],[104.5,0],[105,0.2],[105.5,0.5],[105.8,0.2],[106.2,0.6],[106.6,0.3],[107,0.5],[107.4,0.1],[107.8,-0.05],[108.3,0.06],[108.8,-0.06],[109.3,0.07],[109.8,-0.05],[110.3,0.06],[110.8,-0.07],[111.3,0.05],[112,0],[112.2,0.5],[112.5,1.2],[112.8,-1.97],[113,0.4],[113.3,-0.6],[113.6,1.4],[113.9,-0.3],[114.2,0.8],[114.5,0.2],[114.8,0.5],[115.2,-0.05],[115.7,0.06],[116.2,-0.06],[116.7,0.07],[117.2,-0.05],[117.7,0.18],[118.2,-0.06],[118.7,0.05],[119.2,-0.05],[119.5,0],[120,0.2],[120.3,-0.15],[120.8,0.3],[121.2,-0.2],[121.7,0.05],[122.2,-0.06],[122.7,0.07],[123.2,-0.05],[123.7,0.06],[124.2,-0.07],[124.7,0.05],[125.2,-0.06],[125.7,0.07],[126.2,-0.05],[126.7,0.06],[127.2,-0.05],[127.5,0],[127.9,0.5],[128.2,-0.5],[128.5,0.8],[128.8,-1.0],[129.1,0.6],[129.4,-0.4],[129.8,1.5],[130.1,-0.8],[130.4,0.5],[130.8,-0.2],[131.2,0.3],[131.6,-0.05],[132.1,0.06],[132.6,-0.06],[133.1,0.07],[133.6,-0.05],[134.1,0.06],[134.6,-0.07],[135.1,0.05],[135.6,-0.06],[136.1,0.05],[136.5,0],[137,-0.2],[137.5,-0.35],[138,-0.4],[138.5,-0.25],[139,-0.1],[139.5,0.05],[140,-0.06],[140.5,0.07],[141,-0.05],[141.5,0.06],[142,-0.07],[142.5,0.05],[143,-0.06],[143.5,0.1],[144,-0.08],[144.5,0.12],[145,-0.06],[145.5,0.08],[146,-0.05],[146.5,0.06],[147,-0.07],[147.5,0.05],[148,-0.06],[148.5,0.1],[149,-0.08],[149.5,0],[149.8,0.3],[150,1.16],[150.2,-0.2],[150.4,0.3],[150.6,-3.57],[150.8,0.2],[151.2,-0.2],[151.6,0.8],[151.9,0.05],[152.4,-0.06],[152.9,0.05],[153.4,-0.04],[154,0]];

const magX = [[0,-0.03],[5,-0.04],[10,-0.06],[15,-0.05],[16.2,-0.06],[17,-0.18],[17.6,-0.22],[22.2,-0.21],[23,-0.12],[23.8,-0.05],[28.7,-0.05],[29.4,0.0],[30,0.02],[31,0.0],[38.8,0.0],[43.9,-0.02],[44.8,-0.15],[45.5,-0.27],[46.2,-0.31],[52.4,-0.32],[53.3,-0.2],[54,-0.1],[54.8,-0.04],[59.8,-0.04],[60.6,0.08],[61.6,0.17],[67,0.18],[68.2,0.08],[69.6,-0.05],[77,-0.05],[78.3,-0.09],[80,-0.07],[83.8,-0.08],[84.4,-0.24],[86,-0.22],[90.4,-0.2],[91.8,-0.1],[95,-0.05],[97.5,-0.01],[98.5,0.02],[99.5,0.0],[101,0.02],[104.9,0.02],[106,0.08],[106.8,0.0],[107.6,-0.07],[110,-0.09],[112.4,-0.09],[113.2,0.2],[114.2,0.45],[115,0.4],[116,0.44],[117,0.42],[118,0.47],[119,0.44],[120,0.48],[121,0.47],[121.5,0.55],[121.8,0.45],[122.3,0.15],[122.8,0.0],[124,-0.05],[128.4,-0.05],[129.2,-0.12],[130,-0.2],[132,-0.22],[134,-0.25],[136,-0.2],[137.4,-0.1],[139.1,0.0],[139.8,-0.06],[141,-0.08],[143,-0.08],[144.8,-0.1],[145.9,0.07],[147,0.0],[148,-0.02],[150,-0.03],[154,-0.06]];

const magY = [[0,-0.08],[10,-0.08],[16.2,-0.07],[16.8,0.05],[17.6,0.23],[22.2,0.23],[23,0.08],[23.8,-0.05],[28.7,-0.05],[29.5,0.15],[30.3,0.4],[31.2,0.53],[35.9,0.54],[37,0.3],[38,0.05],[38.8,-0.05],[44,-0.05],[46,-0.07],[48,-0.06],[51.5,-0.05],[54,-0.02],[59.8,0.0],[60.7,0.25],[61.8,0.46],[63,0.48],[67,0.49],[68.2,0.2],[69.6,-0.05],[77.4,-0.07],[78.3,-0.2],[79,-0.05],[79.5,0.05],[80,-0.08],[83.8,-0.08],[84.3,0.1],[84.8,0.23],[88,0.22],[90.2,0.2],[90.8,0.05],[91.5,0.0],[92,0.05],[92.5,-0.02],[93,-0.05],[96,-0.1],[97.3,-0.2],[97.8,-0.43],[98.4,-0.2],[98.8,0.0],[99.4,0.05],[100,0.02],[101,-0.04],[102,0.0],[105,-0.02],[106,-0.35],[106.8,-0.57],[107.2,-0.5],[107.6,-0.64],[108.5,-0.45],[110,-0.41],[111,-0.45],[112,-0.43],[112.8,-0.55],[113.3,-0.3],[113.8,-0.1],[114.2,0.0],[114.6,0.1],[115,0.05],[116,0.12],[117,0.13],[118,0.15],[119,0.18],[120,0.2],[120.8,0.25],[121.4,0.33],[122,0.15],[122.6,0.05],[123.3,-0.05],[125,-0.03],[126,0.02],[127,0.05],[128,0.02],[130,-0.05],[133,-0.05],[135,0.02],[136.6,-0.05],[137.5,-0.25],[138.5,-0.45],[139.3,-0.5],[140,-0.64],[140.3,-0.95],[141,-0.9],[142,-0.95],[143.2,-0.93],[144,-1.02],[144.3,-0.95],[144.6,-1.02],[145.2,-0.5],[145.6,0.0],[146.1,0.07],[147,0.0],[148,-0.02],[150,-0.05],[154,-0.08]];

const magZ = [[0,0.26],[10,0.25],[16,0.26],[18,0.27],[22,0.27],[24,0.26],[28.7,0.26],[29.5,0.31],[30,0.33],[30.7,0.25],[31.4,0.18],[35.1,0.17],[36,0.25],[36.8,0.32],[37.4,0.33],[38.2,0.27],[38.8,0.26],[44.1,0.26],[44.8,0.15],[45.5,0.0],[46.2,-0.12],[52,-0.13],[53,0.05],[53.5,0.18],[54,0.25],[59.8,0.27],[60.6,0.33],[61.2,0.25],[62,0.17],[67,0.17],[67.8,0.27],[68.4,0.33],[69,0.28],[69.6,0.26],[77,0.25],[77.4,0.2],[78,-0.2],[78.5,-0.55],[78.9,-0.68],[79.8,-0.7],[80.5,-0.7],[81,-0.66],[81.6,-0.72],[82.2,-0.85],[82.7,-0.92],[83.2,-0.9],[83.5,-0.8],[83.8,-0.3],[84.2,-0.05],[84.5,-0.2],[85,-0.1],[86,-0.08],[88,-0.07],[90.2,-0.07],[90.8,-0.4],[91.3,-0.68],[92,-0.8],[92.4,-0.95],[93,-0.85],[93.6,-0.8],[94.5,-0.78],[95.5,-0.75],[96.5,-0.7],[97.5,-0.62],[98,-0.2],[98.3,0.3],[98.6,0.55],[99,0.5],[99.5,0.45],[100,0.4],[100.5,0.42],[102,0.4],[104.8,0.38],[105.5,0.2],[106.2,0.0],[106.8,-0.4],[107.6,-0.75],[108.5,-0.72],[109.5,-0.68],[111,-0.66],[112.5,-0.6],[113.4,-0.5],[113.8,-0.45],[114.5,-0.2],[115.2,-0.08],[116,-0.03],[117,0.0],[120.4,0.0],[121,-0.3],[121.5,-0.55],[122,-0.7],[122.6,-0.78],[123,-0.72],[123.4,-0.85],[123.9,-0.89],[124.5,-0.8],[125.5,-0.82],[126.5,-0.84],[127.6,-0.9],[128.2,-0.5],[128.7,0.0],[129.2,0.25],[130,0.4],[130.9,0.43],[131.5,0.38],[132.5,0.41],[134,0.4],[135.5,0.42],[137.2,0.4],[138,0.15],[138.8,-0.2],[139.7,-0.5],[140.4,-0.6],[141,-0.7],[142,-0.68],[143,-0.65],[144.4,-0.55],[145.2,-0.4],[145.8,0.0],[146.5,0.15],[147.3,0.22],[148,0.25],[150,0.26],[154,0.26]];

const qX = [[0,0.0],[10,0.01],[16,0.02],[17,0.04],[22,0.05],[24,0.03],[28.3,0.03],[29.2,0.15],[30,0.35],[30.6,0.5],[31,0.6],[31.6,0.71],[32.5,0.73],[35.7,0.73],[36.5,0.55],[37.4,0.3],[38.2,0.1],[38.8,0.03],[45,0.03],[46,-0.01],[46.5,0.02],[52,0.04],[53,0.06],[59.1,0.04],[59.8,0.2],[60.4,0.45],[61,0.6],[61.8,0.65],[66,0.69],[66.7,0.66],[67.5,0.45],[68.4,0.2],[69.4,0.04],[75,0.03],[83.4,0.02],[84,0.0],[85,0.0],[88,0.03],[92,0.02],[96.8,0.02],[97.5,0.2],[98.2,0.5],[99,0.66],[99.6,0.72],[101,0.73],[104.6,0.73],[105.2,0.55],[105.8,0.3],[106.5,0.1],[107.2,0.03],[113.2,0.03],[113.6,0.0],[115,0.04],[118,0.05],[122,0.05],[128.4,0.04],[129.1,0.25],[129.8,0.5],[130.9,0.62],[132,0.64],[137,0.64],[137.8,0.5],[138.7,0.25],[139.7,0.05],[145,0.04],[150,0.03],[154,0.02]];

const qY = [[0,-0.02],[11,-0.03],[16,-0.02],[17.8,-0.06],[22,-0.06],[23.5,-0.02],[28.3,-0.02],[29.3,-0.06],[30.2,-0.11],[31,-0.09],[35,-0.08],[38,-0.08],[38.8,-0.03],[39.5,-0.05],[43.1,-0.05],[43.8,0.1],[44.5,0.35],[45.2,0.55],[45.6,0.62],[46.6,0.69],[51.1,0.69],[52,0.55],[53,0.3],[54,0.1],[54.8,-0.05],[59.4,-0.05],[60.2,-0.18],[61.2,-0.28],[62,-0.29],[66.7,-0.29],[67.5,-0.2],[68.4,-0.08],[69,-0.02],[76.4,-0.02],[77,-0.04],[77.6,-0.02],[83.4,-0.02],[84,-0.05],[96,-0.05],[98,-0.07],[99.2,-0.12],[100,-0.11],[102,-0.07],[105,-0.07],[106,-0.04],[112.4,-0.02],[113,0.15],[113.8,0.5],[114.5,0.64],[115.2,0.69],[121.4,0.69],[122,0.4],[122.8,0.1],[123.5,-0.02],[128.4,-0.02],[129.2,-0.15],[130.2,-0.29],[136.8,-0.29],[137.8,-0.15],[139.1,-0.02],[145,-0.02],[148,-0.04],[150,-0.03],[154,-0.03]];

const qZ = [[0,-0.02],[10,0.02],[14,0.0],[16.2,-0.01],[16.6,0.3],[17.2,0.63],[18,0.67],[21.5,0.67],[22.5,0.35],[23.2,0.1],[23.8,0.03],[28.3,0.02],[35,0.04],[37,-0.03],[37.6,-0.08],[38.5,-0.04],[40,-0.05],[45,-0.03],[46,0.0],[51.5,0.0],[52,0.04],[55,0.02],[59.4,0.02],[60.2,0.15],[61.4,0.23],[62,0.245],[66.7,0.245],[67.8,0.12],[69,0.02],[72,-0.02],[83.2,-0.03],[83.6,0.3],[84.2,0.64],[85,0.66],[90.2,0.66],[91,0.3],[91.8,0.02],[96,-0.02],[97,-0.03],[98,-0.06],[99,0.02],[100,-0.05],[105,-0.06],[106,-0.15],[107,-0.06],[107.9,-0.04],[112.4,-0.02],[113.6,-0.09],[114.8,0.04],[118,0.03],[122.6,0.03],[123,-0.02],[128.4,0.0],[129.2,0.1],[130,0.17],[131,0.2],[136.8,0.21],[137.8,0.12],[139.1,0.0],[141,0.02],[148,0.02],[149,-0.02],[152,-0.02],[154,0.0]];

const qW = [[0,1.0],[16.4,1.0],[17.1,0.85],[17.8,0.76],[18.5,0.73],[22,0.74],[22.8,0.9],[23.6,1.0],[28.9,1.0],[29.8,0.9],[30.5,0.78],[31.2,0.7],[32,0.69],[35.5,0.69],[36.5,0.82],[37.5,0.95],[38.4,1.0],[44.6,1.0],[45.5,0.88],[46.6,0.74],[51.1,0.74],[52,0.82],[53,0.95],[53.8,1.0],[60.2,1.0],[61,0.88],[61.6,0.74],[62.2,0.68],[67,0.66],[67.8,0.82],[68.8,1.0],[83.8,1.0],[84.2,0.85],[84.6,0.76],[89.8,0.76],[90.6,0.9],[91.4,1.0],[97.6,1.0],[98.6,0.85],[99.6,0.71],[100.5,0.69],[104.6,0.69],[105.6,0.88],[106.6,1.0],[113.2,1.0],[114.2,0.86],[115.2,0.75],[120.6,0.75],[121.5,0.9],[122.4,1.0],[129.2,1.0],[130.3,0.82],[131.5,0.7],[136.8,0.69],[137.7,0.85],[138.7,1.0],[154,1.0]];

// ---------------- LAYOUT / STYLE ----------------
const FONT = '"Liberation Sans", Arial, Helvetica, sans-serif';
const INK = '#262626';
const GRIDC = '#dcdcdc';
const COLORS = ['#0072BD', '#D95319', '#EDB120', '#7E2F8E'];
const STEP_COLORS = ['#4040c8', '#d84848'];

const layout = [
  {top: 32,  height: 116, yMin: -1,    yMax: 1.96,  nameGap: 18, lw: 1, titleTop: 14,  legend: {left: 55, top: 91,  gap: 3,   pad: [3, 5, 1, 5]}},
  {top: 192, height: 117, yMin: -3.57, yMax: 2.44,  nameGap: 18, lw: 1, titleTop: 174, legend: {left: 54, top: 252, gap: 2.5, pad: [3, 5, 2, 5]}},
  {top: 353, height: 114, yMin: -1.02, yMax: 0.545, nameGap: 30, lw: 1, titleTop: 335, legend: {left: 54, top: 408, gap: 2.7, pad: [3, 5, 2, 5]}},
  {top: 511, height: 117, yMin: -0.31, yMax: 1.01,  nameGap: 30, lw: 2, titleTop: 494, legend: {left: 56, top: 523, gap: 3.4, pad: [3, 6, 1, 5]}}
];
const yTickSets = [accelTicks, gyroTicks, magTicks, quatTicks];
const panelNames = [accelNames, gyroNames, magNames, quatNames];
const panelData = [[accelX, accelY, accelZ], [gyroX, gyroY, gyroZ], [magX, magY, magZ], [qX, qY, qZ, qW]];

const grid = [], xAxis = [], yAxis = [], series = [], legend = [], title = [];
layout.forEach((L, i) => {
  grid.push({left: 52, right: 3, top: L.top, height: L.height, show: true, borderColor: INK, borderWidth: 1,
    backgroundColor: '#fff', containLabel: false, outerBoundsMode: 'none'});
  title.push({text: titles[i], left: 677, textAlign: 'center', top: L.titleTop, padding: 0,
    textStyle: {fontFamily: FONT, fontSize: 14, fontWeight: 'bold', color: '#000'}});
});
layout.forEach((L, i) => {
  xAxis.push({type: 'value', gridIndex: i, min: 0, max: 154, position: 'bottom',
    axisLine: {show: false, onZero: false},
    axisTick: {show: true, inside: true, length: 7, customValues: xTicks, lineStyle: {color: INK}},
    axisLabel: {show: true, customValues: xTicks, margin: 9, color: '#333', fontFamily: FONT, fontSize: 12},
    splitLine: {show: true, lineStyle: {color: GRIDC, width: 1}},
    name: i === 3 ? xName : '', nameLocation: 'middle', nameGap: 25, nameMoveOverlap: false,
    nameTextStyle: {fontFamily: FONT, fontSize: 14, color: '#333'}});
});
layout.forEach((L, i) => {
  xAxis.push({type: 'value', gridIndex: i, min: 0, max: 154, position: 'top',
    axisLine: {show: false, onZero: false}, axisLabel: {show: false}, splitLine: {show: false},
    axisTick: {show: true, inside: true, length: 7, customValues: xTicks, lineStyle: {color: INK}}});
});
layout.forEach((L, i) => {
  yAxis.push({type: 'value', gridIndex: i, min: L.yMin, max: L.yMax, position: 'left',
    axisLine: {show: false, onZero: false},
    axisTick: {show: true, inside: true, length: 10, customValues: yTickSets[i], lineStyle: {color: INK}},
    axisLabel: {show: true, customValues: yTickSets[i], margin: 6, color: '#333', fontFamily: FONT, fontSize: 12},
    splitLine: {show: true, lineStyle: {color: GRIDC, width: 1}},
    name: yNames[i], nameLocation: 'middle', nameGap: L.nameGap, nameRotate: 90, nameMoveOverlap: false,
    nameTextStyle: {fontFamily: FONT, fontSize: 14, color: '#333'}});
});
layout.forEach((L, i) => {
  yAxis.push({type: 'value', gridIndex: i, min: L.yMin, max: L.yMax, position: 'right',
    axisLine: {show: false, onZero: false}, axisLabel: {show: false}, splitLine: {show: false},
    axisTick: {show: true, inside: true, length: 10, customValues: yTickSets[i], lineStyle: {color: INK}}});
});
panelData.forEach((arr, i) => {
  arr.forEach((d, k) => {
    series.push({type: 'line', name: panelNames[i][k], xAxisIndex: i, yAxisIndex: i, data: d,
      showSymbol: false, symbol: 'none', animation: false, silent: true, clip: true,
      color: COLORS[k], itemStyle: {color: COLORS[k]}, lineStyle: {width: layout[i].lw, color: COLORS[k]}});
  });
  const Lg = layout[i].legend;
  legend.push({data: panelNames[i], orient: 'vertical', left: Lg.left, top: Lg.top, padding: Lg.pad,
    icon: 'rect', itemGap: Lg.gap, itemWidth: 43, itemHeight: layout[i].lw === 2 ? 2.2 : 1.4,
    backgroundColor: '#fff', borderColor: INK, borderWidth: 1, borderRadius: 0, selectedMode: false,
    textStyle: {fontFamily: FONT, fontSize: 12, color: '#000', lineHeight: 14}});
});
const stepData = stepTimes.map((t, i) => ({value: [t, stepLevel], name: stepNames[i], c: STEP_COLORS[i < 5 ? 0 : 1]}));
series.push({type: 'scatter', xAxisIndex: 3, yAxisIndex: 3, symbolSize: 1, silent: true, animation: false, z: 5,
  itemStyle: {color: 'rgba(0,0,0,0)'},
  data: stepData.map(d => ({value: d.value, name: d.name, label: {color: d.c}})),
  label: {show: true, position: 'inside', formatter: p => p.name,
    fontFamily: '"Liberation Serif", "DejaVu Serif", serif', fontSize: 15}});
series.push({type: 'scatter', xAxisIndex: 3, yAxisIndex: 3, silent: true, animation: false, z: 5,
  symbol: 'rect', symbolOffset: [0, 8],
  symbolSize: (v, p) => [p.name.length > 1 ? 15 : 8, 1.2],
  data: stepData.map(d => ({value: d.value, name: d.name, itemStyle: {color: d.c}}))});

const chart = echarts.init(document.getElementById('c'), null, {renderer: 'canvas'});
chart.setOption({backgroundColor: '#fff', animation: false, title, grid, xAxis, yAxis, legend, series});
</script></body></html>
